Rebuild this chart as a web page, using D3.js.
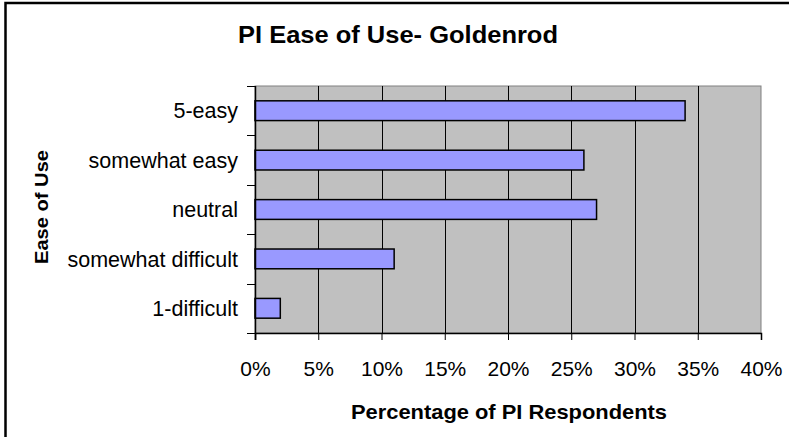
<!DOCTYPE html>
<html>
<head>
<meta charset="utf-8">
<script src="https://cdn.jsdelivr.net/npm/d3@7"></script>
<style>
  body { margin: 0; background: #fff; }
  text { font-family: Arial, "Liberation Sans", sans-serif; fill: #000; }
</style>
</head>
<body>
<div class="chart"></div>
<script>
// data
var categories = ["5-easy", "somewhat easy", "neutral", "somewhat difficult", "1-difficult"];
var percents = [34, 26, 27, 11, 2];
var xTicks = [0, 5, 10, 15, 20, 25, 30, 35, 40];

var svgWidth = 789;
var svgHeight = 437;

// plot area inside the svg
var margin = { top: 86, right: 28, bottom: 104, left: 255 };
var width = svgWidth - margin.left - margin.right;
var height = svgHeight - margin.top - margin.bottom;

var data = categories.map(function(c, i) {
  return { cat: c, value: percents[i] };
});

var svg = d3.select(".chart")
  .append("svg")
  .attr("width", svgWidth)
  .attr("height", svgHeight);

// outer frame, runs off the right and bottom edge
svg.append("rect")
  .attr("x", 5.5)
  .attr("y", 3)
  .attr("width", 820)
  .attr("height", 480)
  .attr("fill", "#fff")
  .attr("stroke", "#000")
  .attr("stroke-width", 2.5);

var chartGroup = svg.append("g")
  .attr("transform", `translate(${margin.left}, ${margin.top})`);

var xScale = d3.scaleLinear()
  .domain([0, 40])
  .range([0, width]);

var yScale = d3.scaleBand()
  .domain(categories)
  .range([0, height])
  .paddingInner(0.6)
  .paddingOuter(0.3);

var yBoundaries = d3.scalePoint()
  .domain(d3.range(categories.length + 1))
  .range([0, height]);

// grey plot background
chartGroup.append("rect")
  .attr("width", width)
  .attr("height", height)
  .attr("fill", "#c0c0c0")
  .attr("stroke", "#808080")
  .attr("stroke-width", 1);

// vertical gridlines
chartGroup.selectAll(".grid")
  .data(xTicks.slice(1, -1))
  .enter()
  .append("line")
  .attr("class", "grid")
  .attr("x1", d => Math.round(xScale(d)) + 0.5)
  .attr("x2", d => Math.round(xScale(d)) + 0.5)
  .attr("y1", 0)
  .attr("y2", height)
  .attr("stroke", "#000")
  .attr("stroke-width", 1);

// bars
chartGroup.selectAll(".bar")
  .data(data)
  .enter()
  .append("rect")
  .attr("class", "bar")
  .attr("x", 0)
  .attr("y", d => yScale(d.cat))
  .attr("width", d => xScale(d.value))
  .attr("height", yScale.bandwidth())
  .attr("fill", "#9999ff")
  .attr("stroke", "#000")
  .attr("stroke-width", 1.5);

// x axis
var bottomAxis = d3.axisBottom(xScale)
  .tickValues(xTicks)
  .tickSize(7)
  .tickFormat(d => d + "%");

var xAxis = chartGroup.append("g")
  .attr("transform", `translate(0, ${height})`)
  .call(bottomAxis);

xAxis.select(".domain").attr("stroke", "#000").attr("stroke-width", 1.5);
xAxis.selectAll(".tick line").attr("stroke", "#000");
xAxis.selectAll(".tick text")
  .attr("y", 43)
  .attr("dy", 0)
  .style("font-size", "21px")
  .style("font-family", "Arial, 'Liberation Sans', sans-serif");

// y axis: ticks between categories
var yAxis = chartGroup.append("g");

yAxis.append("line")
  .attr("x1", 0.5)
  .attr("x2", 0.5)
  .attr("y1", 0)
  .attr("y2", height + 7)
  .attr("stroke", "#000")
  .attr("stroke-width", 1.5);

yAxis.selectAll(".ytick")
  .data(d3.range(categories.length + 1))
  .enter()
  .append("line")
  .attr("class", "ytick")
  .attr("x1", -8)
  .attr("x2", 0)
  .attr("y1", d => Math.round(yBoundaries(d)) + 0.5)
  .attr("y2", d => Math.round(yBoundaries(d)) + 0.5)
  .attr("stroke", "#000");

yAxis.selectAll(".ylabel")
  .data(categories)
  .enter()
  .append("text")
  .attr("class", "ylabel")
  .attr("x", -17)
  .attr("y", d => yScale(d) + yScale.bandwidth() / 2)
  .attr("dy", "0.36em")
  .attr("text-anchor", "end")
  .style("font-size", "21.5px")
  .text(d => d);

// title
svg.append("text")
  .attr("x", 398)
  .attr("y", 43)
  .attr("text-anchor", "middle")
  .style("font-size", "24px")
  .style("font-weight", "bold")
  .attr("textLength", 320)
  .attr("lengthAdjust", "spacingAndGlyphs")
  .text("PI Ease of Use- Goldenrod");

// x axis title
svg.append("text")
  .attr("x", 509)
  .attr("y", 419)
  .attr("text-anchor", "middle")
  .style("font-size", "21px")
  .style("font-weight", "bold")
  .attr("textLength", 316)
  .attr("lengthAdjust", "spacingAndGlyphs")
  .text("Percentage of PI Respondents");

// y axis title
svg.append("text")
  .attr("transform", "translate(48, 207) rotate(-90)")
  .attr("text-anchor", "middle")
  .style("font-size", "19px")
  .style("font-weight", "bold")
  .attr("textLength", 114)
  .attr("lengthAdjust", "spacingAndGlyphs")
  .text("Ease of Use");
</script>
</body>
</html>
